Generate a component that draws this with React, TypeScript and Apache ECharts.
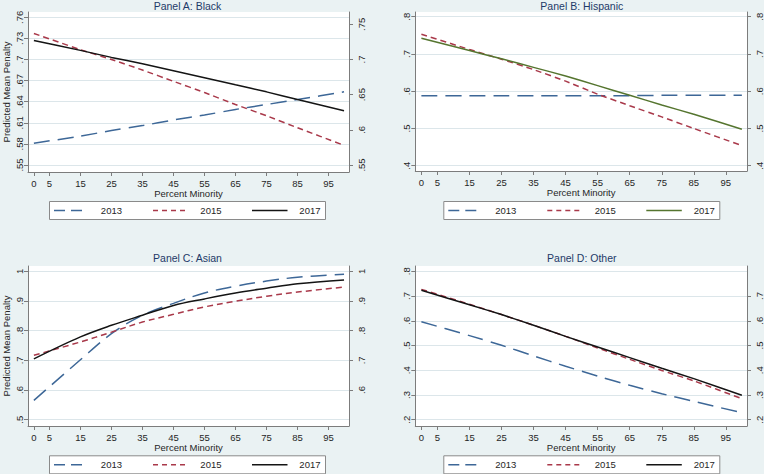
import React, { useEffect, useRef } from 'react';
import * as echarts from 'echarts';

// ---------- data ----------
const YEARS = ['2013', '2015', '2017'];
const PANEL_TITLES = ['Panel A: Black', 'Panel B: Hispanic', 'Panel C: Asian', 'Panel D: Other'];
const X_TITLE = 'Percent Minority';
const Y_TITLE = 'Predicted Mean Penalty';

const PERCENT_MINORITY = [0, 15, 25, 35, 45, 55, 65, 75, 85, 100];
const X_TICKS = [0, 5, 15, 25, 35, 45, 55, 65, 75, 85, 95];

// Panel A: Black
const BLACK_2013 = [0.581, 0.591, 0.599, 0.606, 0.614, 0.621, 0.629, 0.636, 0.643, 0.654];
const BLACK_2015 = [0.737, 0.714, 0.700, 0.685, 0.669, 0.653, 0.636, 0.620, 0.603, 0.578];
const BLACK_2017 = [0.727, 0.713, 0.703, 0.694, 0.684, 0.674, 0.664, 0.654, 0.643, 0.627];
// Panel B: Hispanic
const HISP_2013 = [0.588, 0.588, 0.588, 0.588, 0.588, 0.588, 0.588, 0.589, 0.589, 0.589];
const HISP_2015 = [0.753, 0.712, 0.686, 0.658, 0.627, 0.592, 0.561, 0.531, 0.500, 0.454];
const HISP_2017 = [0.742, 0.709, 0.687, 0.664, 0.641, 0.615, 0.589, 0.563, 0.538, 0.498];
// Panel C: Asian
const ASIAN_2013 = [0.565, 0.702, 0.790, 0.852, 0.892, 0.927, 0.950, 0.967, 0.980, 0.990];
const ASIAN_2015 = [0.717, 0.762, 0.795, 0.829, 0.855, 0.880, 0.899, 0.916, 0.930, 0.947];
const ASIAN_2017 = [0.705, 0.779, 0.818, 0.852, 0.885, 0.907, 0.927, 0.943, 0.958, 0.971];
// Panel D: Other
const OTHER_2013 = [0.596, 0.540, 0.501, 0.458, 0.416, 0.376, 0.339, 0.305, 0.274, 0.228];
const OTHER_2015 = [0.727, 0.667, 0.625, 0.582, 0.537, 0.490, 0.444, 0.399, 0.357, 0.285];
const OTHER_2017 = [0.723, 0.665, 0.625, 0.582, 0.537, 0.494, 0.451, 0.408, 0.366, 0.299];

const LEFT_TICKS_A = [0.55, 0.58, 0.61, 0.64, 0.67, 0.7, 0.73, 0.76];
const RIGHT_TICKS_A = [0.55, 0.6, 0.65, 0.7, 0.75];
const LEFT_TICKS_B = [0.4, 0.5, 0.6, 0.7, 0.8];
const RIGHT_TICKS_B = [0.4, 0.5, 0.6, 0.7, 0.8];
const LEFT_TICKS_C = [0.5, 0.6, 0.7, 0.8, 0.9, 1];
const RIGHT_TICKS_C = [0.6, 0.7, 0.8, 0.9, 1];
const LEFT_TICKS_D = [0.2, 0.3, 0.4, 0.5, 0.6, 0.7, 0.8];
const RIGHT_TICKS_D = [0.2, 0.3, 0.4, 0.5, 0.6, 0.7];

const PANEL_SERIES = [
  [BLACK_2013, BLACK_2015, BLACK_2017],
  [HISP_2013, HISP_2015, HISP_2017],
  [ASIAN_2013, ASIAN_2015, ASIAN_2017],
  [OTHER_2013, OTHER_2015, OTHER_2017],
];
const PANEL_LEFT_TICKS = [LEFT_TICKS_A, LEFT_TICKS_B, LEFT_TICKS_C, LEFT_TICKS_D];
const PANEL_RIGHT_TICKS = [RIGHT_TICKS_A, RIGHT_TICKS_B, RIGHT_TICKS_C, RIGHT_TICKS_D];

// ---------- layout / style ----------
const X_MIN = -1.9;
const X_MAX = 101.6;
const PANELS = [
  { left: 26, top: 12, width: 323, height: 160, yMin: 0.54005, yMax: 0.76754, yName: true, lx: 49, ly: 201, ty: 5.5 },
  { left: 415.3, top: 12, width: 333, height: 159, yMin: 0.3858, yMax: 0.8126, yName: false, lx: 443.3, ly: 201, ty: 5.5 },
  { left: 26, top: 266, width: 323, height: 160, yMin: 0.4788, yMax: 1.0179, yName: true, lx: 49, ly: 455.3, ty: 258 },
  { left: 415.3, top: 266, width: 333, height: 160, yMin: 0.1745, yMax: 0.8214, yName: false, lx: 443.3, ly: 455.3, ty: 258 },
];

const FONT = '"Liberation Sans", Arial, sans-serif';
const BG = '#eaf2f3';
const AXIS = '#7c7c7c';
const GRID = '#dce6ea';
const TXT = '#262626';
const TITLE = '#1e3a68';
const BLUE = '#3d6797';
const RED = '#a9394a';
const BLACK = '#141414';
const GREEN = '#55752f';

const fmt = (v: number) => {
  const s = String(+(+v).toFixed(2));
  return s.replace(/^0\./, '.');
};

export default function App() {
  const ref = useRef<HTMLDivElement>(null);

  useEffect(() => {
    if (!ref.current) return;
    const chart = echarts.init(ref.current, undefined, { renderer: 'svg' });

    const grid: any[] = [];
    const xAxis: any[] = [];
    const yAxis: any[] = [];
    const series: any[] = [];
    const graphic: any[] = [];

    PANELS.forEach((p, i) => {
      grid.push({
        left: p.left, top: p.top, width: p.width, height: p.height,
        show: true, backgroundColor: '#ffffff', borderWidth: 0,
      });
      xAxis.push({
        type: 'value', gridIndex: i, min: X_MIN, max: X_MAX,
        axisLine: { show: true, onZero: false, lineStyle: { color: AXIS, width: 1 } },
        axisTick: { show: true, length: 4, customValues: X_TICKS, lineStyle: { color: AXIS } },
        axisLabel: { customValues: X_TICKS, fontSize: 9.5, margin: 6, color: TXT, fontFamily: FONT },
        splitLine: { show: false },
        name: X_TITLE, nameLocation: 'middle', nameGap: 14,
        nameTextStyle: { fontSize: 9.5, color: TXT, fontFamily: FONT },
      });
      const colors = [BLUE, RED, i === 1 ? GREEN : BLACK];
      const lt = PANEL_LEFT_TICKS[i];
      const rt = PANEL_RIGHT_TICKS[i];
      yAxis.push({
        type: 'value', gridIndex: i, position: 'left', min: p.yMin, max: p.yMax,
        axisLine: { show: true, onZero: false, lineStyle: { color: AXIS, width: 1 } },
        axisTick: { show: true, length: 4, customValues: lt, lineStyle: { color: AXIS } },
        axisLabel: {
          customValues: lt, rotate: 90, fontSize: 9.5, margin: 4, color: TXT, fontFamily: FONT,
          formatter: fmt,
        },
        splitLine: { show: true, lineStyle: { color: GRID, width: 1 } },
        name: p.yName ? Y_TITLE : '', nameLocation: 'middle', nameGap: 17,
        nameTextStyle: { fontSize: 9.5, color: TXT, fontFamily: FONT },
      });
      yAxis.push({
        type: 'value', gridIndex: i, position: 'right', min: p.yMin, max: p.yMax,
        axisLine: { show: true, onZero: false, lineStyle: { color: AXIS, width: 1 } },
        axisTick: { show: true, length: 4, customValues: rt, lineStyle: { color: AXIS } },
        axisLabel: {
          customValues: rt, rotate: 90, fontSize: 9.5, margin: 7, color: TXT, fontFamily: FONT,
          formatter: fmt,
        },
        splitLine: { show: false },
      });
      PANEL_SERIES[i].forEach((vals, k) => {
        series.push({
          type: 'line', name: YEARS[k], xAxisIndex: i, yAxisIndex: 2 * i,
          data: PERCENT_MINORITY.map((x, j) => [x, vals[j]]),
          symbol: 'none', smooth: i === 2 ? 0.35 : 0.15,
          lineStyle: {
            color: colors[k], width: 1.5,
            type: k === 0 ? [16, 8] : k === 1 ? [6, 4] : 'solid',
          },
          z: 3 + k,
        });
      });

      // title
      graphic.push({
        type: 'text', x: p.left + p.width / 2, y: p.ty,
        style: {
          text: PANEL_TITLES[i], fill: TITLE, fontSize: 10.5, fontFamily: FONT,
          align: 'center', verticalAlign: 'middle', textAlign: 'center', textVerticalAlign: 'middle',
        },
      });
      // legend
      const lx = p.lx, ly = p.ly, lw = 276, lh = 18;
      graphic.push({
        type: 'rect', shape: { x: lx + 0.5, y: ly + 0.5, width: lw, height: lh },
        style: { fill: '#ffffff', stroke: '#8a8a8a', lineWidth: 1 },
      });
      const iconStart = [5, 104, 203];
      const iconEnd = [33, 136, 238.5];
      const textRight = [73, 172.5, 271.5];
      YEARS.forEach((yr, k) => {
        graphic.push({
          type: 'line',
          shape: { x1: lx + iconStart[k], y1: ly + 9.5, x2: lx + iconEnd[k], y2: ly + 9.5 },
          style: {
            stroke: colors[k], lineWidth: 1.5,
            lineDash: k === 0 ? [11, 6] : k === 1 ? [5, 4] : null,
          },
        });
        graphic.push({
          type: 'text', x: lx + textRight[k], y: ly + 9.5,
          style: {
            text: yr, fill: TXT, fontSize: 9.5, fontFamily: FONT,
            align: 'right', verticalAlign: 'middle', textAlign: 'right', textVerticalAlign: 'middle',
          },
        });
      });
    });

    chart.setOption({
      animation: false,
      backgroundColor: BG,
      textStyle: { fontFamily: FONT },
      grid, xAxis, yAxis, series, graphic,
    });

    return () => chart.dispose();
  }, []);

  return (
    <div
      ref={ref}
      style={{ position: 'fixed', left: 0, top: 0, width: 764, height: 474 }}
    />
  );
}
